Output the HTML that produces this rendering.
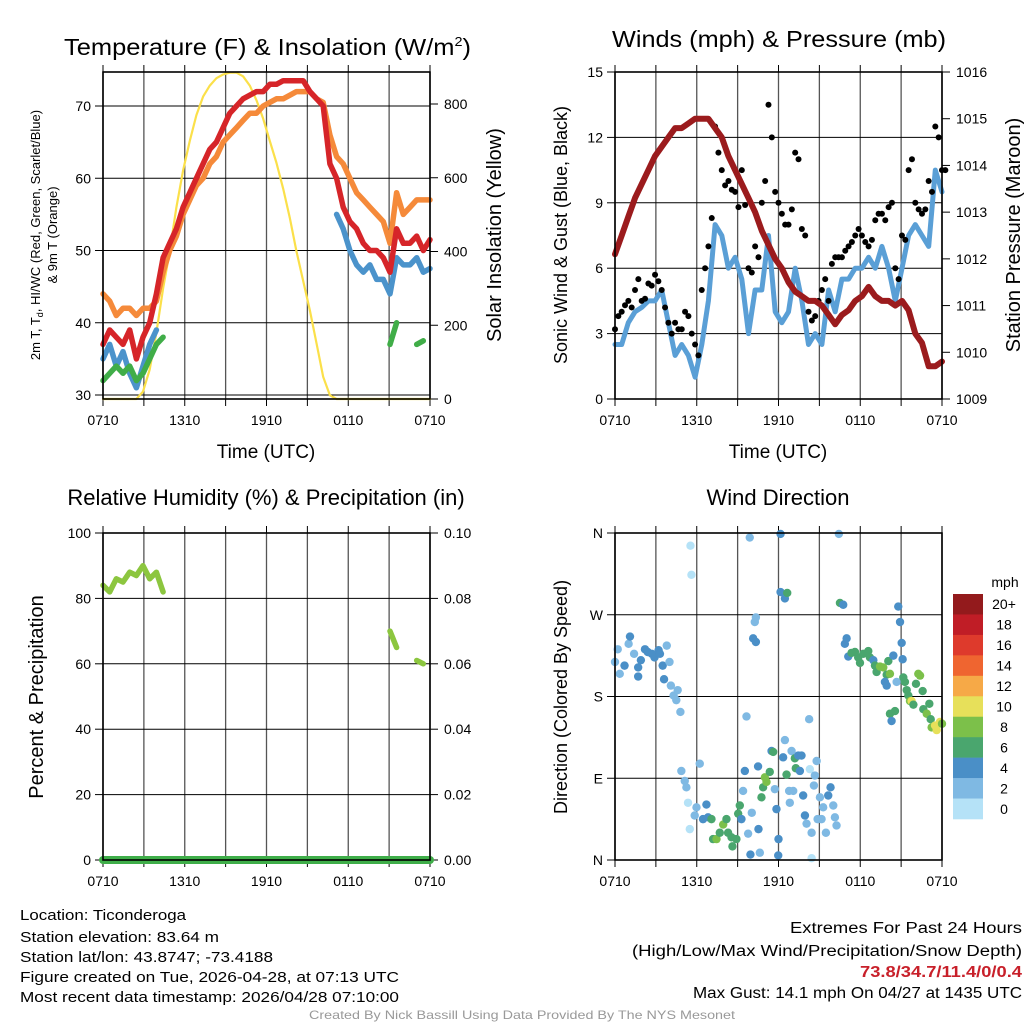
<!DOCTYPE html>
<html><head><meta charset="utf-8"><style>
html,body{margin:0;padding:0;background:#fff;}
svg{display:block;font-family:"Liberation Sans",sans-serif;}
</style></head><body>
<svg id="fig" width="1024" height="1024" viewBox="0 0 1024 1024" xmlns="http://www.w3.org/2000/svg">
<rect width="1024" height="1024" fill="#fff"/>
<text x="64" y="55" font-size="23" textLength="407" lengthAdjust="spacingAndGlyphs">Temperature (F) &amp; Insolation (W/m<tspan dy="-9" font-size="13">2</tspan><tspan dy="9">)</tspan></text>
<text x="612" y="47" font-size="23" textLength="334" lengthAdjust="spacingAndGlyphs">Winds (mph) &amp; Pressure (mb)</text>
<text x="266" y="505" font-size="22" text-anchor="middle">Relative Humidity (%) &amp; Precipitation (in)</text>
<text x="778" y="505" font-size="22" text-anchor="middle">Wind Direction</text>
<g id="g1"></g>
<g id="g2"></g>
<g id="g3"></g>
<g id="g4"></g>
<text transform="translate(40,235) rotate(-90)" font-size="13" text-anchor="middle">2m T, T<tspan font-size="9" dy="3">d</tspan><tspan dy="-3">, HI/WC (Red, Green, Scarlet/Blue)</tspan></text>
<text transform="translate(57,235) rotate(-90)" font-size="13" text-anchor="middle">&amp; 9m T (Orange)</text>
<text transform="translate(501,235) rotate(-90)" font-size="20" text-anchor="middle">Solar Insolation (Yellow)</text>
<text transform="translate(567,235) rotate(-90)" font-size="18" text-anchor="middle">Sonic Wind &amp; Gust (Blue, Black)</text>
<text transform="translate(1020,235) rotate(-90)" font-size="20" text-anchor="middle">Station Pressure (Maroon)</text>
<text transform="translate(43,697) rotate(-90)" font-size="20" text-anchor="middle">Percent &amp; Precipitation</text>
<text transform="translate(567,697) rotate(-90)" font-size="18" text-anchor="middle">Direction (Colored By Speed)</text>
<text x="266" y="458" font-size="19" text-anchor="middle">Time (UTC)</text>
<text x="778" y="458" font-size="19" text-anchor="middle">Time (UTC)</text>
<g font-size="14.5">
<text x="20" y="920" textLength="166" lengthAdjust="spacingAndGlyphs">Location: Ticonderoga</text>
<text x="20" y="942" textLength="199" lengthAdjust="spacingAndGlyphs">Station elevation: 83.64 m</text>
<text x="20" y="962" textLength="253" lengthAdjust="spacingAndGlyphs">Station lat/lon: 43.8747; -73.4188</text>
<text x="20" y="982" textLength="379" lengthAdjust="spacingAndGlyphs">Figure created on Tue, 2026-04-28, at 07:13 UTC</text>
<text x="20" y="1002" textLength="379" lengthAdjust="spacingAndGlyphs">Most recent data timestamp: 2026/04/28 07:10:00</text>
</g>
<g font-size="15.5" text-anchor="end">
<text x="1022" y="933" textLength="232" lengthAdjust="spacingAndGlyphs">Extremes For Past 24 Hours</text>
<text x="1022" y="956" textLength="390" lengthAdjust="spacingAndGlyphs">(High/Low/Max Wind/Precipitation/Snow Depth)</text>
<text x="1022" y="977" fill="#c8202a" font-weight="bold" textLength="162" lengthAdjust="spacingAndGlyphs">73.8/34.7/11.4/0/0.4</text>
<text x="1022" y="998" textLength="329" lengthAdjust="spacingAndGlyphs">Max Gust: 14.1 mph On 04/27 at 1435 UTC</text>
</g>
<text x="309" y="1019" font-size="12" fill="#999" textLength="426" lengthAdjust="spacingAndGlyphs">Created By Nick Bassill Using Data Provided By The NYS Mesonet</text>
</svg>
<script>
// ---- data (samples every 24/49 h starting 0710 UTC) ----
const timeLabels=["0710","1310","1910","0110","0710"];
const tempRed=[37,39,38,37,39,35,38,40,44,49,51,53,56,58,60,62,64,65,67,69,70,71,71.5,72,72,73,73,73.5,73.5,73.5,73.5,72,71,70,62,60,56,54,53,51,50,50,49,47,53,51,51,52,50,51.5];
const tempOrange=[44,43,41,42,42,41,42,42,43,47,50,52,55,57,59,60,62,63,65,66,67,68,69,69,70,70.5,71,71,71.5,72,72,72,71,70.5,66,63,62,60,58,57,56,55,54,51,58,55,56,57,57,57];
const tempBlue=[35,37,34,36,33,31,34,37,39,null,null,null,null,null,null,null,null,null,null,null,null,null,null,null,null,null,null,null,null,null,null,null,null,null,null,55,53,50,48,47,48,46,46,44,49,48,48,49,47,47.5];
const tempGreen=[32,33,34,33,34,32,33,35,37,38,null,null,null,null,null,null,null,null,null,null,null,null,null,null,null,null,null,null,null,null,null,null,null,null,null,null,null,null,null,null,null,null,null,37,40,null,null,37,37.5,null];
const solar=[0,0,0,0,0,0,20,80,180,300,400,520,620,700,770,820,850,870,880,885,885,875,850,810,760,700,640,570,490,400,320,240,150,60,10,0,0,0,0,0,0,0,0,0,0,0,0,0,0,0];
const pressure=[1012.1,1012.5,1012.9,1013.3,1013.6,1013.9,1014.2,1014.4,1014.6,1014.8,1014.8,1014.9,1015.0,1015.0,1015.0,1014.8,1014.6,1014.2,1013.9,1013.6,1013.3,1013.0,1012.6,1012.3,1012.0,1011.8,1011.5,1011.3,1011.2,1011.1,1011.1,1011.0,1010.8,1010.6,1010.8,1010.9,1011.1,1011.2,1011.4,1011.2,1011.1,1011.1,1011.0,1011.1,1010.9,1010.4,1010.2,1009.7,1009.7,1009.8];
const windSpeed=[2.5,2.5,3.5,4,4.2,4.5,4.5,5,3.5,2,2.5,2,1,2.5,4.5,8,7.5,6,6.5,5.5,3,5,5,7.5,4,3.5,4,6,4.5,2.5,3,2.5,5,4,5.5,5.5,6,6,6.5,6,7,6,4.5,6,7.5,8,7.5,7,10.5,9.5];
const gustA=[3.2,4,4.5,5,4.5,5.3,5.7,5,3.5,3.5,3.2,3.8,2.5,5,7,12.5,10.5,10,9.5,10.5,6,7,9,13.5,9.5,8.5,8,11.3,7.8,4,3.8,5,4.5,6.5,6.5,7,7.5,7.5,7,8.2,8.5,8.8,6,7.5,10.5,9,8.5,10,12.5,10.5];
const gustB=[3.8,4.3,4.2,5.5,4.6,5.2,5.4,4.2,3,3.2,4,3,2,6,8.3,11.3,9.8,9.6,8.8,8.9,5.8,6.5,10,12,9,8,8.7,11,7.5,3.6,4.5,5.5,6.2,6.5,6.8,7.2,7.8,7.2,7.3,8.5,8.2,9,5.5,7.3,11,8.7,8.7,9.5,12,10.5];
const rh=[84,82,86,85,88,87,90,86,88,82,null,null,null,null,null,null,null,null,null,null,null,null,null,null,null,null,null,null,null,null,null,null,null,null,null,null,null,null,null,null,null,null,null,70,65,null,null,61,60,null];
const precip=[0,0,0,0,0,0,0,0,0,0,0,0,0,0,0,0,0,0,0,0,0,0,0,0,0,0,0,0,0,0,0,0,0,0,0,0,0,0,0,0,0,0,0,0,0,0,0,0,0,0];
const dirHour=[0,0.2,0.35,0.7,1.0,1.1,1.4,1.7,1.7,1.9,2.2,2.4,2.7,2.9,3.2,3.3,3.5,3.8,4.0,3.6,4.1,4.3,4.5,4.6,4.8,4.87,5.12,5.24,5.36,5.49,5.61,5.54,5.98,5.85,6.22,6.46,6.71,6.83,7.08,7.2,7.45,7.69,7.94,8.18,8.3,8.55,8.62,8.91,9.04,9.16,9.28,9.4,9.53,9.65,9.77,9.89,9.94,10.04,10.26,10.34,10.14,10.34,10.5,10.53,10.63,10.75,10.87,11.0,11.12,11.36,11.49,11.61,11.73,11.85,12.0,11.98,12.15,12.15,12.47,12.64,12.34,12.47,12.59,12.78,12.83,12.96,13.08,13.2,13.27,13.45,13.57,13.69,13.81,13.94,14.06,14.25,14.3,14.43,14.43,14.6,14.67,14.8,14.87,15.04,15.16,15.28,15.48,15.65,15.82,16.02,16.14,16.26,16.43,16.51,16.75,16.87,17.0,17.12,17.36,17.61,17.85,17.98,18.22,18.59,18.71,18.96,19.08,19.2,19.45,19.69,19.94,20.06,20.18,19.81,19.94,20.43,20.18,20.3,20.55,20.67,20.79,20.92,21.04,21.11,21.16,21.28,21.41,21.53,21.65,21.77,21.9,22.09,22.26,22.39,22.58,22.63,22.88,23.07,23.17,23.24,23.49,23.61,23.85,24.0];
const dirDeg=[218,232,205,214,238,246,227,212,202,220,232,229,227,223,231,227,214,236,218,199,192,181,176,187,163,98,87,80,63,34,314,346,58,49,106,45,61,47,45,23,23,30,39,45,30,25,15,23,51,60,45,76,98,158,29,355,6,52,262,267,244,240,103,34,8,69,80,91,86,97,120,119,78,56,23,5,359,295,288,294,113,132,94,76,63,120,76,112,101,115,98,115,71,49,40,155,100,30,2,82,93,109,45,69,45,58,30,71,80,60,47,38,359,283,281,238,244,224,228,229,223,217,227,230,223,220,214,207,213,212,204,219,205,196,192,225,161,153,164,196,279,262,239,221,201,196,187,181,175,175,171,194,205,203,186,166,161,172,155,146,148,143,152,150];
const dirSpeed=[2,2,2,4,2,4,2,4,4,4,4,4,4,4,4,4,4,2,2,4,2,2,2,2,2,2,2,2,0,0,0,0,2,2,2,4,4,4,6,6,8,6,8,6,6,6,6,6,6,6,4,2,4,2,2,2,4,2,2,2,4,4,4,4,2,6,6,8,8,6,4,6,2,4,4,4,4,4,4,6,4,2,6,2,2,2,2,6,6,4,4,4,4,4,2,2,0,2,0,2,2,2,2,2,2,2,2,4,4,2,2,2,2,6,4,4,4,4,6,6,6,6,6,6,6,4,6,6,8,8,6,6,8,4,4,4,6,4,6,2,4,4,4,4,6,6,6,6,8,10,6,6,8,8,6,6,8,6,6,8,10,10,10,8];
const speedBins=["0","2","4","6","8","10","12","14","16","18","20+"];
const binColors=["#b5e2f7","#7fb9e3","#4a8fc7","#4aa66e","#7cc04a","#e7e05a","#f6a947","#ef6530","#de3a2c","#c01d26","#931a1c"];

const NS="http://www.w3.org/2000/svg";
function mk(parent,tag,attrs){const e=document.createElementNS(NS,tag);for(const k in attrs)e.setAttribute(k,attrs[k]);parent.appendChild(e);return e;}
const g1=document.getElementById('g1'),g2=document.getElementById('g2'),g3=document.getElementById('g3'),g4=document.getElementById('g4');
const L=[103,615], R=[430,942], TOP=[72,533], BOT=[399,860];
function xs(col,h){return L[col]+h*(R[col]-L[col])/24;}
function idxHour(i){return i*24/49;}
function lin(d0,d1,p0,p1){return v=>p0+(v-d0)*(p1-p0)/(d1-d0);}

function frame(g,col,row){
  const x0=L[col],x1=R[col],y0=TOP[row],y1=BOT[row];
  for(let h=0;h<=24;h+=3){
    const x=xs(col,h);
    const gl=mk(g,'line',{x1:x,x2:x,y1:y0,y2:y1,stroke:'#555','stroke-width':1.3});
    
    
    const tk=mk(g,'line',{x1:x,x2:x,y1:y1,y2:y1+7,stroke:'#000','stroke-width':1});
    
    
    const tt=mk(g,'line',{x1:x,x2:x,y1:y0,y2:y0-7,stroke:'#000','stroke-width':1});
    
    
  }
  timeLabels.forEach((lab,i)=>{
    const t=mk(g,'text',{x:xs(col,i*6),y:y1+26,'font-size':14,'text-anchor':'middle'});
    t.textContent=lab;
    
    
  });
}
function yAxis(g,col,row,vals,fmt,sc,side,grid){
  const x0=L[col],x1=R[col];
  vals.forEach(v=>{
    const y=sc(v);
    if(grid){const gl=mk(g,'line',{x1:x0,x2:x1,y1:y,y2:y,stroke:'#000','stroke-width':1});
      
      }
    const xa=side?x1:x0, d=side?8:-8;
    const tk=mk(g,'line',{x1:xa,x2:xa+d,y1:y,y2:y,stroke:'#000','stroke-width':1});
    
    
    const t=mk(g,'text',{x:side?xa+14:xa-12,y:y+5,'font-size':14,'text-anchor':side?'start':'end'});
    t.textContent=fmt(v);
    
    
  });
}
function border(g,col,row){
  const b=mk(g,'rect',{x:L[col],y:TOP[row],width:R[col]-L[col],height:BOT[row]-TOP[row],fill:'none',stroke:'#000','stroke-width':1.6});
  
  
}
function pathOf(col,arr,sc){
  let d='',pen=false;
  arr.forEach((v,i)=>{if(v===null){pen=false;return;}
    d+=(pen?'L':'M')+xs(col,idxHour(i)).toFixed(1)+','+sc(v).toFixed(1);pen=true;});
  return d;
}
function line(g,col,arr,sc,color,w,name){
  const p=mk(g,'path',{d:pathOf(col,arr,sc),fill:'none',stroke:color,'stroke-width':w,'stroke-linejoin':'round','stroke-linecap':'round'});
  
  
}

// Panel 1
frame(g1,0,0);
const tY=lin(30,70,395,106), sY=lin(0,800,399,104);
yAxis(g1,0,0,[30,40,50,60,70],v=>v,tY,false,true);
yAxis(g1,0,0,[0,200,400,600,800],v=>v,sY,true,false);
line(g1,0,solar,sY,'#fbe04a',2.2,'solar-line');
line(g1,0,tempOrange,tY,'#f58a3a',5.5,'temp-9m-line');
line(g1,0,tempBlue,tY,'#4b93cb',5.5,'windchill-line');
line(g1,0,tempRed,tY,'#d62529',5.5,'temp-2m-line');
line(g1,0,tempGreen,tY,'#40ad48',5.5,'dewpoint-line');
border(g1,0,0);

// Panel 2
frame(g2,1,0);
const wY=lin(0,15,399,72), pY=lin(1009,1016,399,72);
yAxis(g2,1,0,[0,3,6,9,12,15],v=>v,wY,false,true);
yAxis(g2,1,0,[1009,1010,1011,1012,1013,1014,1015,1016],v=>v,pY,true,false);
line(g2,1,windSpeed,wY,'#5a9fd6',5,'wind-speed-line');
[gustA,gustB].forEach((arr,k)=>arr.forEach((v,i)=>{
  const c=mk(g2,'circle',{cx:xs(1,idxHour(i)+k*12/49),cy:wY(v),r:3,fill:'#000'});
  
  
}));
line(g2,1,pressure,pY,'#9b1b1d',6,'pressure-line');
border(g2,1,0);

// Panel 3
frame(g3,0,1);
const rY=lin(0,100,860,533), prY=lin(0,0.1,860,533);
yAxis(g3,0,1,[0,20,40,60,80,100],v=>v,rY,false,true);
yAxis(g3,0,1,[0,0.02,0.04,0.06,0.08,0.1],v=>v.toFixed(2),prY,true,false);
line(g3,0,rh,rY,'#8cc63f',5.5,'rh-line');
line(g3,0,precip,prY,'#3fae49',8,'precip-line');
border(g3,0,1);

// Panel 4
frame(g4,1,1);
const dY=lin(0,360,860,533);
yAxis(g4,1,1,[0,90,180,270,360],v=>['N','E','S','W','N'][v/90],dY,false,true);
dirHour.forEach((h,i)=>{
  const b=Math.min(10,Math.floor(dirSpeed[i]/2));
  const c=mk(g4,'circle',{cx:xs(1,h),cy:dY(dirDeg[i]),r:4.2,fill:binColors[b]});
  
  
});
border(g4,1,1);
// colorbar
const cbTop=594, cbBot=819, bh=(cbBot-cbTop)/speedBins.length;
speedBins.forEach((lab,i)=>{
  const k=speedBins.length-1-i;
  const r=mk(g4,'rect',{x:953,y:cbTop+i*bh,width:30,height:bh+0.3,fill:binColors[k]});
  
  
  const t=mk(g4,'text',{x:1004,y:cbTop+i*bh+bh/2+5,'font-size':14,'text-anchor':'middle'});
  t.textContent=speedBins[k];
  
  
});
const mu=mk(g4,'text',{x:1005,y:587,'font-size':14,'text-anchor':'middle'});
mu.textContent='mph';


</script>
</body></html>
